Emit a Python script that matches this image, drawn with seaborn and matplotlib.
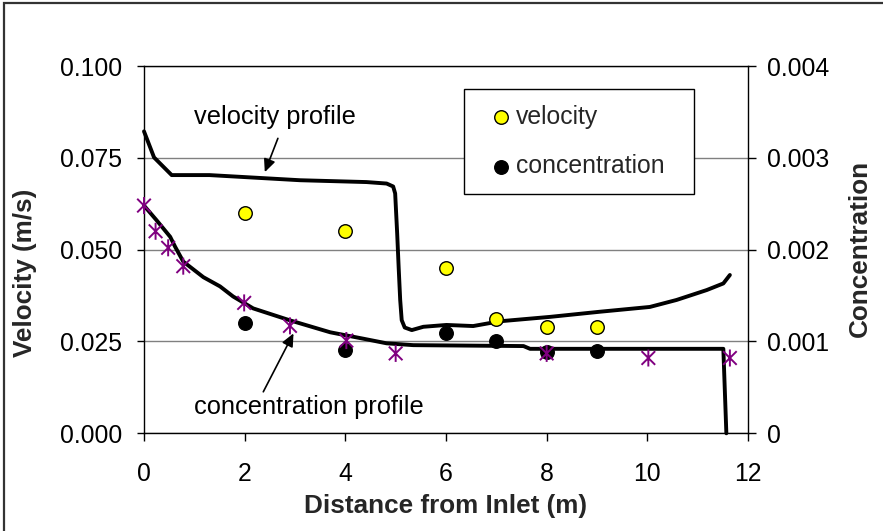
import matplotlib
matplotlib.use("Agg")
import matplotlib.pyplot as plt
import seaborn as sns
from matplotlib.path import Path
from matplotlib.patches import Rectangle

# ---------------- data ----------------
meas_x = [2, 4, 6, 7, 8, 9]
velocity_meas = [0.060, 0.055, 0.045, 0.031, 0.029, 0.029]
conc_meas = [0.00120, 0.00091, 0.00109, 0.00101, 0.00088, 0.00090]

star_x = [0, 0.23, 0.48, 0.78, 1.99, 2.9, 4.02, 5.0, 8.0, 10.02, 11.64]
star_conc = [0.00248, 0.00220, 0.00202, 0.00182, 0.00142, 0.00117,
             0.00101, 0.00087, 0.00087, 0.00082, 0.00082]

vel_prof_x = [0, 0.2, 0.55, 1.3, 3.1, 4.42, 4.82, 4.95, 4.99, 5.03, 5.06,
              5.09, 5.12, 5.18, 5.32, 5.55, 6.01, 6.54, 7.07, 8.07, 9.06,
              10.05, 10.58, 11.18, 11.51, 11.64]
vel_prof_y = [0.0822, 0.0751, 0.0703, 0.0703, 0.0689, 0.0684, 0.0680, 0.0672,
              0.0653, 0.0544, 0.0450, 0.0363, 0.0308, 0.0288, 0.0281, 0.0290,
              0.0295, 0.0292, 0.0305, 0.0317, 0.0331, 0.0344, 0.0363, 0.0390,
              0.0408, 0.0431]

conc_prof_x = [0, 0.25, 0.52, 0.62, 0.78, 1.18, 1.51, 1.77, 2.17, 2.9, 3.70,
               4.36, 4.82, 5.35, 7.54, 7.67, 11.51, 11.57]
conc_prof_y = [0.00248, 0.00232, 0.00214, 0.00203, 0.00187, 0.00170, 0.00160,
               0.00149, 0.00136, 0.00123, 0.00110, 0.00103, 0.00098, 0.00096,
               0.00095, 0.00092, 0.00092, 0.0]

x_ticks = [0, 2, 4, 6, 8, 10, 12]
vel_ticks = [0.0, 0.025, 0.050, 0.075, 0.100]
vel_tick_labels = ["0.000", "0.025", "0.050", "0.075", "0.100"]
conc_ticks = [0.0, 0.001, 0.002, 0.003, 0.004]
conc_tick_labels = ["0", "0.001", "0.002", "0.003", "0.004"]

# ---------------- style ----------------
sns.set_theme(style="ticks")
plt.rcParams["font.family"] = ["Liberation Sans", "DejaVu Sans"]

W, H = 883, 531
fig = plt.figure(figsize=(W / 100, H / 100), dpi=100)
L, R, T, B = 144, 748, 66, 433.3
ax = fig.add_axes([L / W, 1 - B / H, (R - L) / W, (B - T) / H])
ax2 = ax.twinx()

# outer chart frame (left/top visible)
fig.patches.append(Rectangle((4 / W, -0.05), 1.2, 1 - 3.5 / H + 0.05,
                             transform=fig.transFigure, fill=False,
                             edgecolor="#333333", lw=1.6))

# asterisk marker (X plus vertical bar)
star_marker = Path([(-1, -1), (1, 1), (-1, 1), (1, -1), (0, -1.25), (0, 1.25)],
                   [Path.MOVETO, Path.LINETO, Path.MOVETO, Path.LINETO,
                    Path.MOVETO, Path.LINETO])

# ---------------- plotting ----------------
sns.lineplot(x=vel_prof_x, y=vel_prof_y, ax=ax, color="black", lw=2.8,
             sort=False, estimator=None, legend=False, clip_on=False)
sns.scatterplot(x=meas_x, y=velocity_meas, ax=ax, color="#FFFF00",
                edgecolor="black", linewidth=1.0, s=95, zorder=5,
                label="velocity", legend=False, clip_on=False)

sns.lineplot(x=conc_prof_x, y=conc_prof_y, ax=ax2, color="black", lw=2.8,
             sort=False, estimator=None, legend=False, clip_on=False)
sns.scatterplot(x=star_x, y=star_conc, ax=ax2, marker=star_marker,
                color="#800080", facecolor="none", edgecolor="#800080",
                linewidth=1.4, s=150, zorder=6, legend=False, clip_on=False)
sns.scatterplot(x=meas_x, y=conc_meas, ax=ax2, color="black",
                edgecolor="black", linewidth=1.0, s=95, zorder=5,
                label="concentration", legend=False, clip_on=False)

# ---------------- axes ----------------
ax.set_xlim(0, 12)
ax.set_ylim(0, 0.1)
ax2.set_ylim(0, 0.004)
ax.set_xticks(x_ticks)
ax.set_xticklabels([str(t) for t in x_ticks])
ax.set_yticks(vel_ticks)
ax.set_yticklabels(vel_tick_labels)
ax2.set_yticks(conc_ticks)
ax2.set_yticklabels(conc_tick_labels)

ax.yaxis.grid(True, color="#808080", lw=1.0)
ax.set_axisbelow(True)

for a in (ax, ax2):
    for s in a.spines.values():
        s.set_color("black")
        s.set_linewidth(1.0)
ax.spines["right"].set_visible(False)
ax.spines["top"].set_visible(True)
ax2.spines["top"].set_visible(False)
ax2.spines["left"].set_visible(False)
ax2.spines["bottom"].set_visible(False)

tfs = 17.8
ax.tick_params(axis="x", direction="out", length=5.5, width=1, colors="black",
               labelsize=tfs, pad=15)
ax.tick_params(axis="y", direction="out", length=5, width=1, colors="black",
               labelsize=tfs, pad=10.5)
ax2.tick_params(axis="y", direction="out", length=5.5, width=1, colors="black",
                labelsize=tfs, pad=8.5)

ax.set_xlabel("Distance from Inlet (m)", fontsize=18.8, fontweight="bold")
ax.xaxis.set_label_coords(0.5, -0.165)
ax.set_ylabel("Velocity (m/s)", fontsize=18.8, fontweight="bold")
ax.yaxis.set_label_coords(-0.177, 0.437)
ax2.set_ylabel("Concentration", fontsize=18.8, fontweight="bold")
ax2.yaxis.set_label_coords(1.1656, 0.5045)

# ---------------- annotations ----------------
afs = 18.3
ax.text(0.99, 0.0860, "velocity profile", fontsize=afs, ha="left",
        va="center", color="black")
ax.annotate("", xy=(2.40, 0.0711), xytext=(2.66, 0.0803),
            arrowprops=dict(arrowstyle="-|>,head_length=0.55,head_width=0.25",
                            color="black", lw=1.2, mutation_scale=14,
                            shrinkA=0, shrinkB=0))
ax.text(0.99, 0.0072, "concentration profile", fontsize=afs, ha="left",
        va="center", color="black")
ax.annotate("", xy=(2.97, 0.0272), xytext=(2.37, 0.0113),
            arrowprops=dict(arrowstyle="-|>,head_length=0.55,head_width=0.25",
                            color="black", lw=1.2, mutation_scale=14,
                            shrinkA=0, shrinkB=0))

# ---------------- legend ----------------
h1, l1 = ax.get_legend_handles_labels()
h2, l2 = ax2.get_legend_handles_labels()
leg = ax2.legend(h1 + h2, l1 + l2, loc="upper left",
                 bbox_to_anchor=(0.530, 0.654, 0.381, 0.2826), mode="expand",
                 borderaxespad=0, fontsize=tfs, frameon=True, fancybox=False,
                 framealpha=1, edgecolor="black", borderpad=0.62,
                 labelspacing=1.04, handlelength=1.78, handletextpad=-0.3,
                 scatterpoints=1)
leg.get_frame().set_linewidth(1.0)

fig.savefig("out.png", dpi=100)
